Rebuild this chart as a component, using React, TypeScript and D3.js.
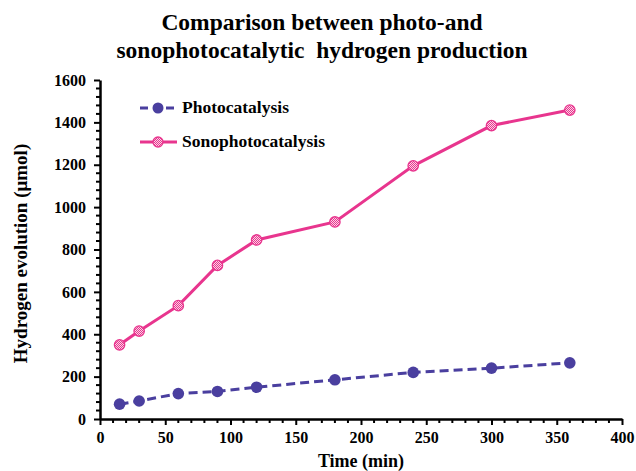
import React, { useEffect, useRef } from 'react';
import * as d3 from 'd3';

// time points (min)
const times = [15, 30, 60, 90, 120, 180, 240, 300, 360];
const photoValues = [70, 85, 120, 130, 150, 185, 220, 240, 265];
const sonoValues = [350, 415, 535, 725, 845, 930, 1195, 1385, 1458];
const xTicks = [0, 50, 100, 150, 200, 250, 300, 350, 400];
const yTicks = [0, 200, 400, 600, 800, 1000, 1200, 1400, 1600];
const seriesNames = ['Photocatalysis', 'Sonophotocatalysis'];
const titleLines = ['Comparison between photo-and', 'sonophotocatalytic  hydrogen production'];

export default function App() {
  const svgRef = useRef<SVGSVGElement | null>(null);

  useEffect(() => {
    if (!svgRef.current) return;
    const svg = d3.select(svgRef.current);
    svg.selectAll('*').remove();

    const width = 636;
    const height = 471;
    const margin = { top: 80, right: 14, bottom: 52, left: 100 };
    const photoColor = '#4a3f9f';
    const sonoColor = '#e8358e';
    const font = "'Liberation Serif', 'DejaVu Serif', serif";

    svg.attr('width', width).attr('height', height)
      .style('font-family', font);

    const defs = svg.append('defs');
    const pat = defs.append('pattern')
      .attr('id', 'sono-hatch')
      .attr('patternUnits', 'userSpaceOnUse')
      .attr('width', 2)
      .attr('height', 2);
    pat.append('rect').attr('width', 2).attr('height', 2).attr('fill', '#fbd3e6');
    pat.append('rect').attr('width', 1).attr('height', 1).attr('fill', '#e8358e');
    pat.append('rect').attr('x', 1).attr('y', 1).attr('width', 1).attr('height', 1).attr('fill', '#e8358e');

    const x = d3.scaleLinear().domain([0, 400]).range([margin.left, width - margin.right]);
    const y = d3.scaleLinear().domain([0, 1600]).range([height - margin.bottom, margin.top]);

    // Title
    svg.append('g')
      .selectAll('text')
      .data(titleLines)
      .join('text')
      .attr('x', 322)
      .attr('y', (_, i) => 30 + i * 28)
      .attr('text-anchor', 'middle')
      .style('font-family', font)
      .attr('font-weight', 'bold')
      .attr('font-size', 23.5)
      .style('white-space', 'pre')
      .text(d => d);

    // Axes
    const xAxis = svg.append('g')
      .attr('transform', `translate(0,${y(0)})`)
      .call(d3.axisBottom(x).tickValues(xTicks).tickSize(6).tickSizeOuter(0).tickPadding(7));
    xAxis.select('.domain').attr('stroke-width', 2.5);
    xAxis.selectAll('.tick line').attr('stroke-width', 2);
    xAxis.selectAll('.tick text')
      .style('font-family', font).attr('font-weight', 'bold').attr('font-size', 16).attr('fill', '#000');

    // minor x ticks
    svg.append('g')
      .selectAll('line')
      .data(d3.range(10, 400, 10).filter(v => v % 50 !== 0))
      .join('line')
      .attr('x1', d => x(d)).attr('x2', d => x(d))
      .attr('y1', y(0)).attr('y2', y(0) + 4)
      .attr('stroke', '#000').attr('stroke-width', 2);

    const yAxis = svg.append('g')
      .attr('transform', `translate(${x(0)},0)`)
      .call(d3.axisLeft(y).tickValues(yTicks).tickFormat(d3.format('d')).tickSize(6).tickSizeOuter(0).tickPadding(8));
    yAxis.select('.domain').attr('stroke-width', 2.5);
    yAxis.selectAll('.tick line').attr('stroke-width', 2);
    yAxis.selectAll('.tick text')
      .style('font-family', font).attr('font-weight', 'bold').attr('font-size', 16).attr('fill', '#000');

    // minor y ticks
    svg.append('g')
      .selectAll('line')
      .data(d3.range(40, 1600, 40).filter(v => v % 200 !== 0))
      .join('line')
      .attr('x1', x(0) - 4).attr('x2', x(0))
      .attr('y1', d => y(d)).attr('y2', d => y(d))
      .attr('stroke', '#000').attr('stroke-width', 2);

    // Axis titles
    svg.append('text')
      .attr('x', (x(0) + x(400)) / 2)
      .attr('y', 467)
      .attr('text-anchor', 'middle')
      .style('font-family', font).attr('font-weight', 'bold').attr('font-size', 18)
      .text('Time (min)');

    svg.append('text')
      .attr('transform', `translate(27,${(y(0) + y(1600)) / 2 + 4}) rotate(-90)`)
      .attr('text-anchor', 'middle')
      .style('font-family', font).attr('font-weight', 'bold').attr('font-size', 19)
      .text('Hydrogen evolution (\u03bcmol)');

    const line = d3.line<number>()
      .x((_, i) => x(times[i]))
      .y(d => y(d));

    // Photocatalysis
    svg.append('path')
      .datum(photoValues)
      .attr('fill', 'none')
      .attr('stroke', photoColor)
      .attr('stroke-width', 3)
      .attr('stroke-dasharray', '9,5')
      .attr('d', line);
    svg.append('g')
      .selectAll('circle')
      .data(photoValues)
      .join('circle')
      .attr('cx', (_, i) => x(times[i]))
      .attr('cy', d => y(d))
      .attr('r', 5.8)
      .attr('fill', photoColor);

    // Sonophotocatalysis
    svg.append('path')
      .datum(sonoValues)
      .attr('fill', 'none')
      .attr('stroke', sonoColor)
      .attr('stroke-width', 3)
      .attr('d', line);
    svg.append('g')
      .selectAll('circle')
      .data(sonoValues)
      .join('circle')
      .attr('cx', (_, i) => x(times[i]))
      .attr('cy', d => y(d))
      .attr('r', 5.2)
      .attr('fill', 'url(#sono-hatch)')
      .attr('stroke', sonoColor)
      .attr('stroke-width', 1.3);

    // Legend
    const legend = svg.append('g');
    seriesNames.forEach((name, i) => {
      const ly = 108 + i * 34;
      const color = i === 0 ? photoColor : sonoColor;
      legend.append('line')
        .attr('x1', 140).attr('x2', 177)
        .attr('y1', ly).attr('y2', ly)
        .attr('stroke', color).attr('stroke-width', 3)
        .attr('stroke-dasharray', i === 0 ? '8,5' : null);
      legend.append('circle')
        .attr('cx', 158).attr('cy', ly)
        .attr('r', i === 0 ? 5.5 : 5)
        .attr('fill', i === 0 ? photoColor : 'url(#sono-hatch)')
        .attr('stroke', i === 0 ? 'none' : sonoColor)
        .attr('stroke-width', 1.3);
      legend.append('text')
        .attr('x', 182).attr('y', ly + 5)
        .style('font-family', font).attr('font-weight', 'bold').attr('font-size', 17.5)
        .text(name);
    });
  }, []);

  return (
    <div style={{ position: 'absolute', left: 0, top: 0, background: '#fff' }}>
      <svg ref={svgRef} style={{ display: 'block' }}></svg>
    </div>
  );
}
